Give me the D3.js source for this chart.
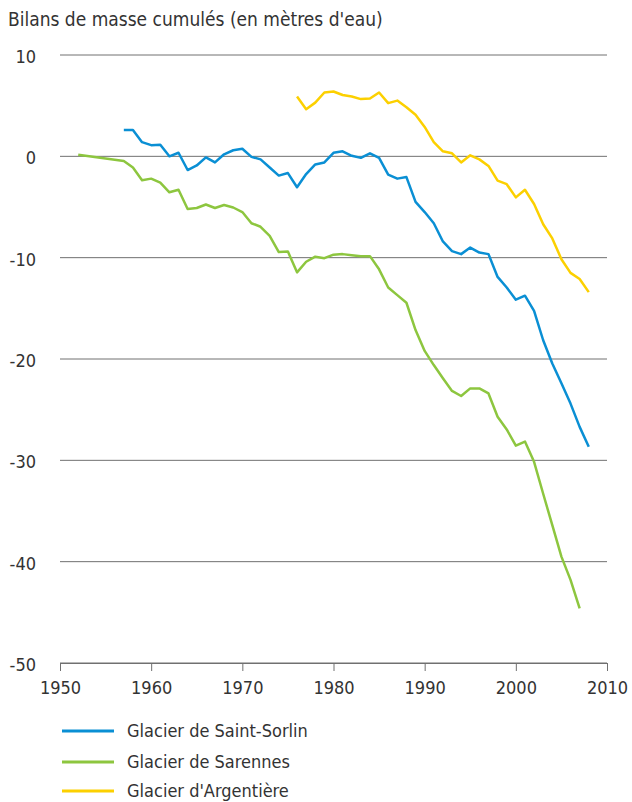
<!DOCTYPE html>
<html>
<head>
<meta charset="utf-8">
<script src="https://cdn.jsdelivr.net/npm/d3@7"></script>
<style>
  body { margin: 0; background: #fff; }
  text { font-family: "Liberation Sans Narrow", "DejaVu Sans Condensed", "Open Sans", sans-serif; fill: #333; }
</style>
</head>
<body>
<svg width="632" height="802"></svg>
<script>
// Data
var yTicks = [10, 0, -10, -20, -30, -40, -50];
var xTicks = [1950, 1960, 1970, 1980, 1990, 2000, 2010];

var saintSorlinYears = [1957,1958,1959,1960,1961,1962,1963,1964,1965,1966,1967,1968,1969,1970,1971,1972,1973,1974,1975,1976,1977,1978,1979,1980,1981,1982,1983,1984,1985,1986,1987,1988,1989,1990,1991,1992,1993,1994,1995,1996,1997,1998,1999,2000,2001,2002,2003,2004,2005,2006,2007,2008];
var saintSorlin = [2.6,2.6,1.4,1.1,1.15,0.0,0.35,-1.35,-0.9,-0.1,-0.6,0.2,0.6,0.75,-0.05,-0.3,-1.1,-1.9,-1.65,-3.05,-1.75,-0.8,-0.6,0.35,0.5,0.05,-0.15,0.3,-0.15,-1.8,-2.2,-2.05,-4.5,-5.5,-6.6,-8.4,-9.35,-9.65,-9.0,-9.5,-9.65,-11.9,-12.95,-14.15,-13.75,-15.25,-18.15,-20.45,-22.4,-24.4,-26.7,-28.65];

var sarennesYears = [1952,1954,1957,1958,1959,1960,1961,1962,1963,1964,1965,1966,1967,1968,1969,1970,1971,1972,1973,1974,1975,1976,1977,1978,1979,1980,1981,1982,1983,1984,1985,1986,1987,1988,1989,1990,1991,1992,1993,1994,1995,1996,1997,1998,1999,2000,2001,2002,2003,2004,2005,2006,2007];
var sarennes = [0.15,-0.1,-0.45,-1.1,-2.35,-2.2,-2.6,-3.55,-3.3,-5.2,-5.1,-4.75,-5.1,-4.8,-5.05,-5.5,-6.6,-6.95,-7.85,-9.45,-9.4,-11.45,-10.4,-9.9,-10.05,-9.7,-9.65,-9.75,-9.85,-9.85,-11.15,-12.95,-13.7,-14.45,-17.15,-19.2,-20.6,-21.9,-23.15,-23.65,-22.9,-22.9,-23.4,-25.7,-26.95,-28.55,-28.15,-30.15,-33.3,-36.4,-39.5,-41.8,-44.6];

var argentiereYears = [1976,1977,1978,1979,1980,1981,1982,1983,1984,1985,1986,1987,1988,1989,1990,1991,1992,1993,1994,1995,1996,1997,1998,1999,2000,2001,2002,2003,2004,2005,2006,2007,2008];
var argentiere = [5.9,4.65,5.3,6.3,6.4,6.05,5.9,5.65,5.7,6.3,5.25,5.5,4.85,4.1,2.9,1.4,0.5,0.3,-0.6,0.1,-0.3,-0.95,-2.4,-2.75,-4.05,-3.3,-4.7,-6.7,-8.1,-10.15,-11.5,-12.1,-13.4];

var seriesNames = ["Glacier de Saint-Sorlin", "Glacier de Sarennes", "Glacier d'Argentière"];
var seriesColors = ["#0a8fd4", "#8dc63f", "#fcd000"];

var series = [
  { name: seriesNames[0], color: seriesColors[0], pts: saintSorlinYears.map(function(y, i) { return [y, saintSorlin[i]]; }) },
  { name: seriesNames[1], color: seriesColors[1], pts: sarennesYears.map(function(y, i) { return [y, sarennes[i]]; }) },
  { name: seriesNames[2], color: seriesColors[2], pts: argentiereYears.map(function(y, i) { return [y, argentiere[i]]; }) }
];

var svg = d3.select("svg");

var x = d3.scaleLinear().domain([1950, 2010]).range([60, 607]);
var y = d3.scaleLinear().domain([-50, 10]).range([663, 55]);

// title
svg.append("text")
  .attr("x", 8).attr("y", 26)
  .style("font-size", "19px")
  .text("Bilans de masse cumulés (en mètres d'eau)");

// gridlines
svg.append("g")
  .selectAll("line")
  .data(yTicks)
  .enter().append("line")
    .attr("x1", x(1950)).attr("x2", x(2010))
    .attr("y1", function(d) { return y(d); })
    .attr("y2", function(d) { return y(d); })
    .attr("stroke", "#707070")
    .attr("stroke-width", 1);

// y labels
svg.append("g")
  .selectAll("text")
  .data(yTicks)
  .enter().append("text")
    .attr("x", 36)
    .attr("y", function(d) { return y(d); })
    .attr("dy", "0.45em")
    .attr("text-anchor", "end")
    .style("font-size", "18px")
    .text(function(d) { return d; });

// x axis
var xAxis = svg.append("g")
  .attr("transform", "translate(0," + y(-50) + ")")
  .call(d3.axisBottom(x).tickValues(xTicks).tickFormat(d3.format("d")).tickSize(8).tickPadding(10));
xAxis.select(".domain").attr("stroke", "#707070");
xAxis.selectAll(".tick line").attr("stroke", "#707070");
xAxis.selectAll(".tick text")
  .attr("fill", "#333")
  .style("font-size", "18px")
  .style("font-family", "\"Liberation Sans Narrow\", \"DejaVu Sans Condensed\", sans-serif");

// lines
var line = d3.line()
  .x(function(d) { return x(d[0]); })
  .y(function(d) { return y(d[1]); });

svg.append("g")
  .selectAll("path")
  .data(series)
  .enter().append("path")
    .attr("d", function(d) { return line(d.pts); })
    .attr("fill", "none")
    .attr("stroke", function(d) { return d.color; })
    .attr("stroke-width", 2.5)
    .attr("stroke-linejoin", "round");

// legend
var legendY = [731, 762, 791];
var legend = svg.append("g")
  .selectAll("g")
  .data(series)
  .enter().append("g")
    .attr("transform", function(d, i) { return "translate(62," + legendY[i] + ")"; });

legend.append("line")
  .attr("x1", 0).attr("x2", 52)
  .attr("stroke", function(d) { return d.color; })
  .attr("stroke-width", 3);

legend.append("text")
  .attr("x", 65)
  .attr("dy", "0.35em")
  .style("font-size", "18px")
  .text(function(d) { return d.name; });
</script>
</body>
</html>
